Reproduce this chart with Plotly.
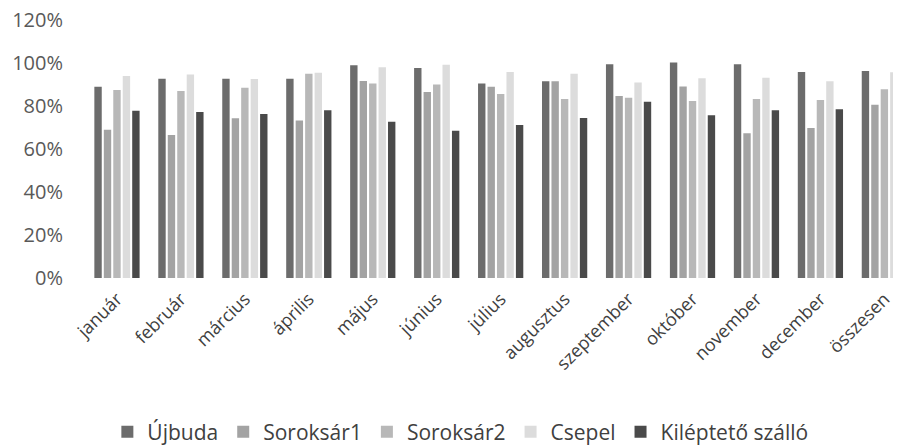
import plotly.graph_objects as go

categories = ["január", "február", "március", "április", "május", "június", "július",
              "augusztus", "szeptember", "október", "november", "december", "összesen"]

ujbuda     = [0.89, 0.927, 0.927, 0.927, 0.99, 0.977, 0.905, 0.915, 0.994, 1.002, 0.994, 0.958, 0.963]
soroksar1  = [0.69, 0.665, 0.743, 0.733, 0.916, 0.865, 0.89, 0.915, 0.847, 0.891, 0.673, 0.698, 0.806]
soroksar2  = [0.874, 0.87, 0.885, 0.95, 0.905, 0.90, 0.856, 0.833, 0.839, 0.823, 0.833, 0.828, 0.878]
csepel     = [0.94, 0.947, 0.926, 0.955, 0.98, 0.992, 0.958, 0.95, 0.909, 0.929, 0.932, 0.915, 0.957]
kilepteto  = [0.778, 0.772, 0.763, 0.78, 0.727, 0.685, 0.712, 0.744, 0.82, 0.757, 0.78, 0.785, 0.769]

y_ticks = [0, 0.2, 0.4, 0.6, 0.8, 1.0, 1.2]

series = [
    ("Újbuda", ujbuda, "#6c6c6c"),
    ("Soroksár1", soroksar1, "#a3a3a3"),
    ("Soroksár2", soroksar2, "#b8b8b8"),
    ("Csepel", csepel, "#dcdcdc"),
    ("Kiléptető szálló", kilepteto, "#4a4a4a"),
]

fig = go.Figure()
for name, vals, col in series:
    fig.add_trace(go.Bar(x=categories, y=vals, name=name, marker_color=col,
                         marker_line_width=0))

# page has an 8px body margin, so the figure is sized/offset to compensate
fig.update_layout(
    width=893, height=440,
    margin=dict(l=77, r=0, t=12, b=170),
    paper_bgcolor="white", plot_bgcolor="white",
    barmode="group", bargap=0.26, bargroupgap=0.22,
    font=dict(family="Open Sans, sans-serif", color="#404040"),
    showlegend=True,
    legend=dict(orientation="h", xanchor="center", x=0.46, yref="container",
                y=0.036, yanchor="middle", font=dict(size=21, color="#404040"),
                itemwidth=30, traceorder="normal"),
    xaxis=dict(range=[-0.5, 12.26], tickangle=-45, tickfont=dict(size=18, color="#404040"),
               showgrid=False, showline=False, ticks="", zeroline=False,
               automargin=False, ticklabelstandoff=6, ticklabeloverflow="allow"),
    yaxis=dict(range=[0, 1.2001], tickvals=y_ticks,
               tickformat=".0%", tickfont=dict(size=20, color="#595959"),
               showgrid=False, zeroline=False, showline=False, ticks="",
               ticklabelstandoff=21, automargin=False, ticklabeloverflow="allow"),
)

fig.write_html("out.html")
